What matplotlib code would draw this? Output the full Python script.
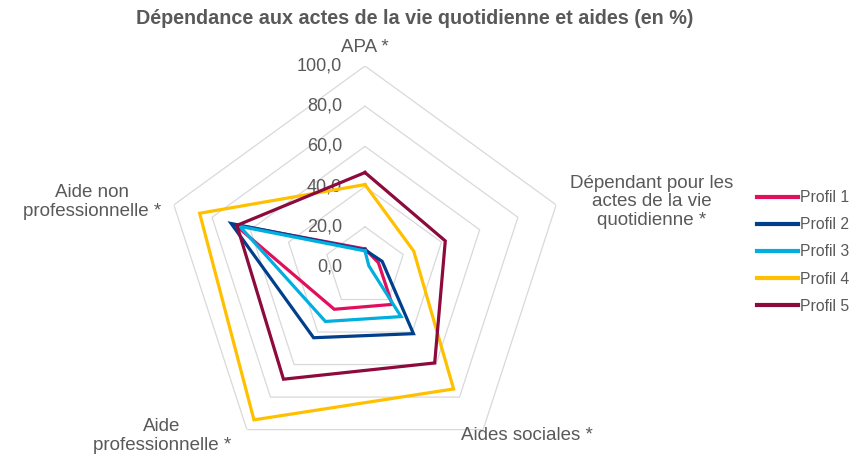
import numpy as np
import matplotlib
matplotlib.use("Agg")
import matplotlib.pyplot as plt

plt.rcParams['font.family'] = ['Liberation Sans', 'DejaVu Sans']

title = "Dépendance aux actes de la vie quotidienne et aides (en %)"
categories = ["APA *",
              "Dépendant pour les\nactes de la vie\nquotidienne *",
              "Aides sociales *",
              "Aide\nprofessionnelle *",
              "Aide non\nprofessionnelle *"]
series_names = ["Profil 1", "Profil 2", "Profil 3", "Profil 4", "Profil 5"]
profil1 = [9.0, 7.0, 23.0, 26.0, 68.0]
profil2 = [8.5, 9.0, 41.0, 43.5, 70.0]
profil3 = [8.0, 2.0, 30.5, 33.5, 65.5]
profil4 = [41.0, 25.5, 75.0, 94.0, 86.5]
profil5 = [47.0, 42.0, 59.0, 69.0, 67.0]
radial_ticks = [0, 20, 40, 60, 80, 100]
radial_tick_labels = ["0,0", "20,0", "40,0", "60,0", "80,0", "100,0"]

colors = ["#E2105C", "#003F8C", "#00AEE0", "#FFC000", "#8C0A3C"]
text_color = "#595959"

W, H = 857, 457
fig = plt.figure(figsize=(W / 100, H / 100), dpi=100)

cx, cy, R = 365, 267, 201
ax = fig.add_axes([(cx - R) / W, 1 - (cy + R) / H, 2 * R / W, 2 * R / H], projection='polar')
ax.set_theta_zero_location('N')
ax.set_theta_direction(-1)
ax.set_ylim(0, 100)
ax.grid(False)
ax.spines['polar'].set_visible(False)
ax.set_xticks([])
ax.set_yticks([])
ax.patch.set_alpha(0)

n = len(categories)
angles = np.linspace(0, 2 * np.pi, n, endpoint=False)
closed = np.concatenate([angles, angles[:1]])

# pentagon grid
for t in radial_ticks[1:]:
    ax.plot(closed, [t] * (n + 1), color="#D9D9D9", lw=0.9, zorder=1)

for name, vals, c in zip(series_names, [profil1, profil2, profil3, profil4, profil5], colors):
    v = list(vals) + [vals[0]]
    ax.plot(closed, v, color=c, lw=2.3, label=name, zorder=3, solid_joinstyle='miter')

for t, lab in zip(radial_ticks, radial_tick_labels):
    ax.annotate(lab, xy=(0, t), xytext=(-23, 0), textcoords='offset pixels',
                ha='right', va='center', fontsize=13, color=text_color, zorder=2)

# category labels
label_pos = [(365, 47), (652, 202), (527, 435), (162, 436), (92, 202)]
for lab, (px, py) in zip(categories, label_pos):
    fig.text(px / W, 1 - py / H, lab, ha='center', va='center', fontsize=13.5,
             color=text_color, linespacing=1.15)

fig.text(415 / W, 1 - 18 / H, title, ha='center', va='center', fontsize=14.2,
         fontweight='bold', color=text_color)

leg = fig.legend(loc='upper left', bbox_to_anchor=(757 / W, 1 - 190 / H), frameon=False,
                 fontsize=11.3, handlelength=2.6, handletextpad=0.15, labelspacing=0.78,
                 borderpad=0, borderaxespad=0)
for t in leg.get_texts():
    t.set_color(text_color)
for l in leg.get_lines():
    l.set_linewidth(3)

fig.savefig("out.png", dpi=100)
